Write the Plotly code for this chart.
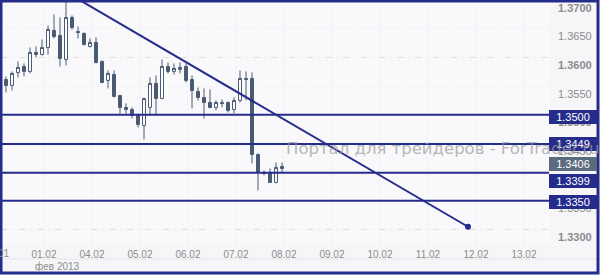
import plotly.graph_objects as go

# ---- data (3-hour candles, EUR/USD, Feb 2013) ----
candle_idx = list(range(48))
opens  = [1.3577,1.35616,1.35512,1.35738,1.35843,1.35756,1.36087,1.36052,1.36174,1.36471,1.36384,1.35965,
          1.36698,1.36454,1.36419,1.36192,1.36262,1.35930,1.35599,1.35703,1.35337,1.35128,1.35093,1.34988,
          1.34814,1.35128,1.35547,1.35285,1.35843,1.35756,1.35791,1.35843,1.35616,1.35407,1.35302,1.35215,
          1.35128,1.35215,1.35215,1.35093,1.35250,1.35634,1.35634,1.34308,1.33994,1.33994,1.33820,1.34099]
highs  = [1.3583,1.35669,1.35756,1.35930,1.35895,1.36174,1.36192,1.36314,1.36558,1.36750,1.36698,1.37140,
          1.36733,1.36541,1.36436,1.36331,1.36349,1.35948,1.35773,1.35773,1.35345,1.35198,1.35128,1.35023,
          1.35285,1.35651,1.35686,1.35965,1.35913,1.35895,1.35913,1.35895,1.35686,1.35477,1.35459,1.35442,
          1.35250,1.35267,1.35232,1.35302,1.35773,1.35756,1.35738,1.34325,1.34029,1.34064,1.34168,1.34168]
lows   = [1.3562,1.35390,1.35424,1.35651,1.35669,1.35721,1.36000,1.36035,1.36052,1.36331,1.35843,1.35860,
          1.36488,1.36331,1.36209,1.36174,1.35895,1.35550,1.35459,1.35302,1.35023,1.35023,1.34936,1.34779,
          1.34570,1.34988,1.34988,1.35270,1.35721,1.35703,1.35721,1.35564,1.35110,1.35250,1.34936,1.35110,
          1.35076,1.35128,1.35041,1.35023,1.35215,1.35250,1.34151,1.33680,1.33942,1.33820,1.33803,1.33994]
closes = [1.3565,1.35512,1.35721,1.35826,1.35756,1.36087,1.36052,1.36174,1.36488,1.36366,1.35983,1.36698,
          1.36523,1.36436,1.36227,1.36262,1.35913,1.35564,1.35721,1.35320,1.35128,1.35093,1.34988,1.34831,
          1.35285,1.35547,1.35285,1.35843,1.35756,1.35808,1.35826,1.35599,1.35424,1.35302,1.35215,1.35128,
          1.35215,1.35197,1.35076,1.35250,1.35634,1.35616,1.34308,1.33994,1.33977,1.33820,1.34081,1.34064]

levels = [1.3500, 1.3449, 1.3399, 1.3350]
level_label_shift = [-2, 0, -8, -1]
current_price = 1.3406
trend_x = [11, 78]
trend_y = [1.3714, 1.33047]

day_tick_pos = [7.33 + 8 * k for k in range(11)]
day_tick_text = ["01.02", "04.02", "05.02", "06.02", "07.02", "08.02",
                 "09.02", "10.02", "11.02", "12.02", "13.02"]
first_day_text = "31.01"
price_ticks = [1.3300 + 0.005 * k for k in range(9)]
month_label = "фев 2013"
watermark = "Портал для трейдеров - ForTrader.ru"

NAVY = "#262c8c"
CANDLE = "#4b5a74"
W, H = 600, 275
PLOT_W, PLOT_H = 550, 243
Y_TOP = 1.37002
Y_BOT = Y_TOP - PLOT_H / 5733.0

def price_text(v):
    s = f"{v:.4f}"
    return f"<b>{s}</b>" if round(v * 10000) % 100 == 0 else s

fig = go.Figure()
fig.add_trace(go.Candlestick(
    x=candle_idx, open=opens, high=highs, low=lows, close=closes,
    increasing=dict(fillcolor="#ffffff", line=dict(color=CANDLE, width=1)),
    decreasing=dict(fillcolor=CANDLE, line=dict(color=CANDLE, width=1)),
    whiskerwidth=0, hoverinfo="skip", showlegend=False,
))
fig.add_trace(go.Scatter(
    x=trend_x, y=trend_y, mode="lines", line=dict(color=NAVY, width=2),
    hoverinfo="skip", showlegend=False, cliponaxis=True,
))
fig.add_trace(go.Scatter(
    x=[trend_x[-1]], y=[trend_y[-1]], mode="markers",
    marker=dict(color=NAVY, size=6), hoverinfo="skip", showlegend=False,
))

shapes = []
for v in (1.3600, 1.3300):
    shapes.append(dict(type="line", xref="paper", yref="y", x0=0, x1=1, y0=v, y1=v,
                       line=dict(color="#e0d5c0", width=1, dash="dash"), layer="below"))
for v in levels:
    shapes.append(dict(type="line", xref="paper", yref="y", x0=0, x1=549 / PLOT_W, y0=v, y1=v,
                       line=dict(color=NAVY, width=2)))
# separator under day labels
shapes.append(dict(type="line", xref="paper", yref="paper", x0=0, x1=W / PLOT_W,
                   y0=(PLOT_H - 259) / PLOT_H, y1=(PLOT_H - 259) / PLOT_H,
                   line=dict(color="#e6e6ec", width=1)))
# outer frame
shapes.append(dict(type="rect", xref="paper", yref="paper",
                   x0=1 / PLOT_W, x1=(W - 2) / PLOT_W,
                   y0=(PLOT_H - (H - 2)) / PLOT_H, y1=(PLOT_H - 1) / PLOT_H,
                   line=dict(color=NAVY, width=3)))

annotations = []
for v, sh in zip(levels, level_label_shift):
    annotations.append(dict(xref="paper", yref="y", x=549 / PLOT_W, y=v, xanchor="left",
                            yanchor="middle", yshift=sh, text=f"{v:.4f}", showarrow=False,
                            width=44, height=10, bgcolor=NAVY, bordercolor=NAVY,
                            borderwidth=1, borderpad=1,
                            font=dict(family="Liberation Sans", size=11, color="#ffffff")))
annotations.append(dict(xref="paper", yref="y", x=549 / PLOT_W, y=current_price, xanchor="left",
                        yanchor="middle", yshift=5, text=f"{current_price:.4f}", showarrow=False,
                        width=44, height=10, bgcolor="#5c6a7d", bordercolor="#5c6a7d",
                        borderwidth=1, borderpad=1,
                        font=dict(family="Liberation Sans", size=11, color="#ffffff")))
annotations.append(dict(xref="paper", yref="paper", x=-4 / PLOT_W, y=(PLOT_H - 253) / PLOT_H,
                        xanchor="center", yanchor="middle", text=first_day_text, showarrow=False,
                        font=dict(family="Liberation Sans", size=10, color="#8c8c8c")))
annotations.append(dict(xref="paper", yref="paper", x=33 / PLOT_W, y=(PLOT_H - 266) / PLOT_H,
                        xanchor="left", yanchor="middle", text=month_label, showarrow=False,
                        font=dict(family="Liberation Sans", size=10, color="#8c8c8c")))
annotations.append(dict(xref="paper", yref="paper", x=284 / PLOT_W, y=(PLOT_H - 148) / PLOT_H,
                        xanchor="left", yanchor="middle", text=watermark, showarrow=False,
                        opacity=0.7,
                        font=dict(family="DejaVu Sans", size=16.5, color="#9c9c9c")))

fig.update_layout(
    width=W, height=H,
    margin=dict(l=0, r=W - PLOT_W, t=0, b=H - PLOT_H, pad=0),
    paper_bgcolor="#f6f6f8", plot_bgcolor="#f9f9fb",
    shapes=shapes, annotations=annotations, showlegend=False,
    xaxis=dict(range=[0, PLOT_W / 6], rangeslider=dict(visible=False),
               tickmode="array", tickvals=day_tick_pos, ticktext=day_tick_text,
               showgrid=True, gridcolor="#ececf1", griddash="dot", zeroline=False,
               showline=False, ticks="", ticklabelstandoff=4,
               tickfont=dict(family="Liberation Sans", size=10, color="#8c8c8c")),
    yaxis=dict(range=[Y_BOT, Y_TOP], side="right",
               tickmode="array", tickvals=price_ticks,
               ticktext=[price_text(v) for v in price_ticks],
               ticklabelposition="outside bottom", ticklabelstandoff=7,
               showgrid=True, gridcolor="#ececf1", griddash="dot", zeroline=False,
               showline=False, ticks="",
               tickfont=dict(family="Liberation Sans", size=11, color="#8c8c8c")),
)

fig.write_html("out.html")
